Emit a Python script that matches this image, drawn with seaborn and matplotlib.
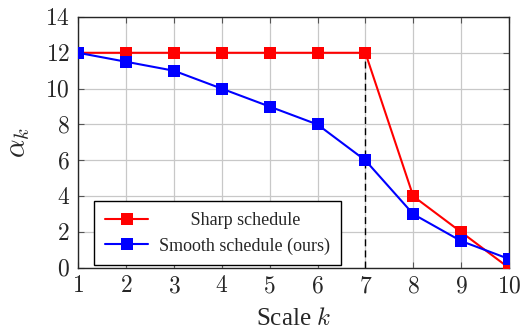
import seaborn as sns
import matplotlib.pyplot as plt
import pandas as pd

scales = [1, 2, 3, 4, 5, 6, 7, 8, 9, 10]
sharp = [12, 12, 12, 12, 12, 12, 12, 4, 2, 0]
smooth = [12, 11.5, 11, 10, 9, 8, 6, 3, 1.5, 0.5]
series_names = ["Sharp schedule", "Smooth schedule (ours)"]

df = pd.DataFrame({"k": scales, series_names[0]: sharp, series_names[1]: smooth})
long = df.melt(id_vars="k", var_name="schedule", value_name="alpha")

sns.set_style("ticks")
plt.rcParams["font.family"] = ["Liberation Serif", "DejaVu Serif"]
plt.rcParams["mathtext.fontset"] = "cm"

fig = plt.figure(figsize=(5.28, 3.32), dpi=100)
ax = fig.add_axes([0.148, 0.193, 0.816, 0.756])

ax.vlines(7, 0, 12, colors="black", linestyles=(0, (5, 3)), linewidth=1, zorder=2)

sns.lineplot(
    data=long, x="k", y="alpha", hue="schedule",
    palette={series_names[0]: "#ff0000", series_names[1]: "#0000ff"},
    marker="s", markersize=9, markeredgewidth=0, linewidth=1.5,
    ax=ax, zorder=3,
)

ax.set_xlim(1, 10)
ax.set_ylim(0, 14)
ax.set_xticks(scales)
ax.set_yticks(range(0, 15, 2))
ax.set_xticklabels([f"${v}$" for v in scales], fontsize=17)
ax.set_yticklabels([f"${v}$" for v in range(0, 15, 2)], fontsize=17)
ax.grid(True, color="#c8c8c8", linewidth=0.9)
ax.set_axisbelow(True)
ax.tick_params(direction="in", top=True, right=True, length=4, pad=6, color="#555555")
for s in ax.spines.values():
    s.set_linewidth(1.0)

ax.set_xlabel("Scale $k$", fontsize=18, labelpad=8)
ax.set_ylabel(r"$\alpha_k$", fontsize=21, labelpad=9)

handles, labels = ax.get_legend_handles_labels()
labels = ["       " + labels[0], labels[1]]
leg = ax.legend(
    handles, labels,
    loc="lower left", bbox_to_anchor=(0.037, 0.01), borderaxespad=0, fontsize=13,
    frameon=True, fancybox=False, edgecolor="black", framealpha=1,
    handlelength=2.4, handletextpad=0.6, borderpad=0.6, labelspacing=0.45,
)
leg.get_frame().set_linewidth(1.0)

fig.savefig("out.png", dpi=100)
